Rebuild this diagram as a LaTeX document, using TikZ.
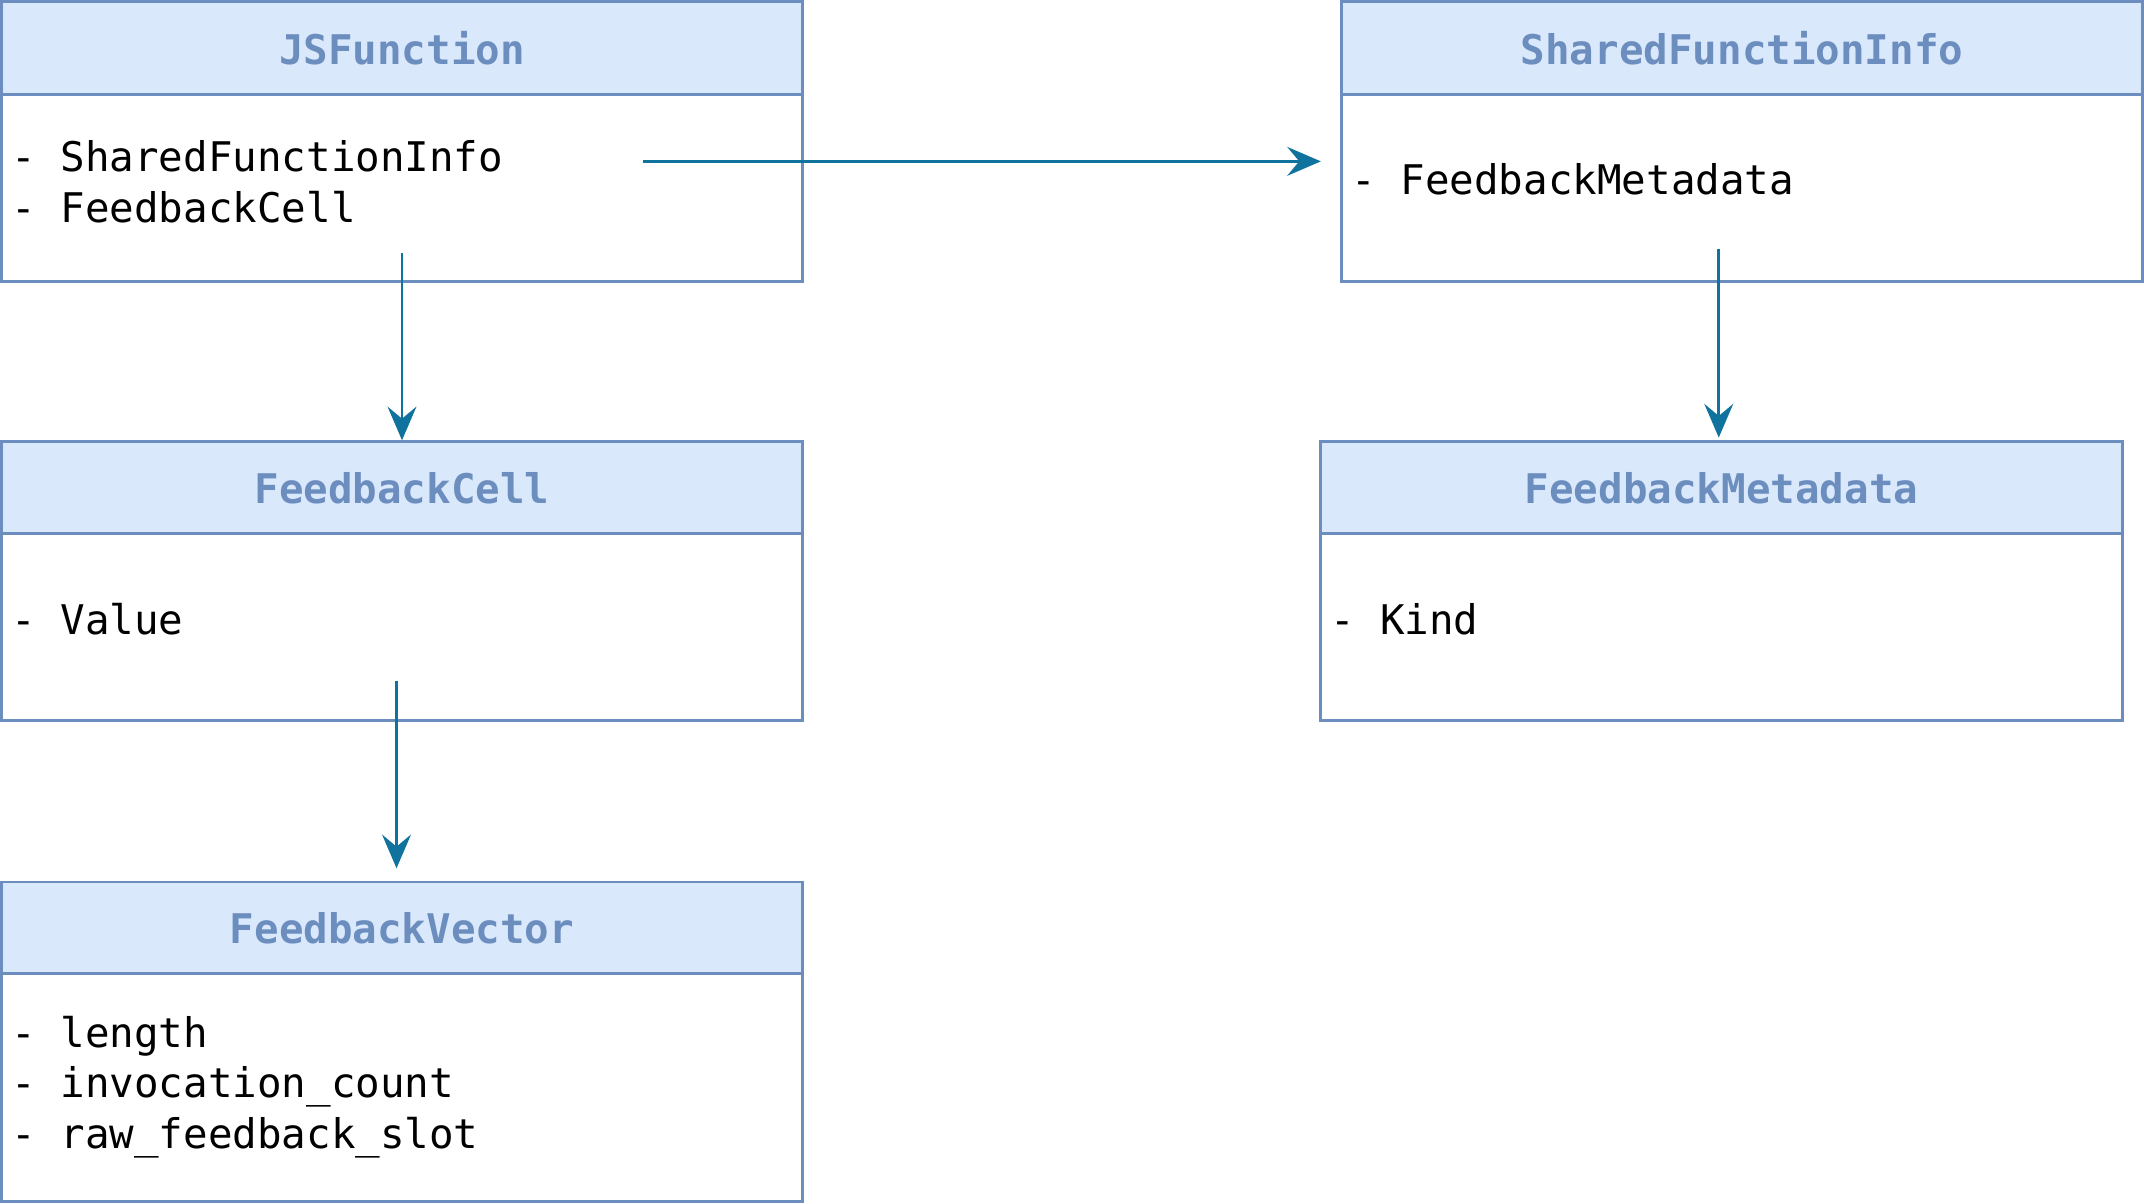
\documentclass[tikz,border=0pt]{standalone}
\usepackage{fontspec}
\setmonofont{DejaVu Sans Mono}
\usetikzlibrary{arrows.meta}
\definecolor{hdrfill}{HTML}{DAE8FC}
\definecolor{hdrline}{HTML}{6C8EBF}
\definecolor{arr}{HTML}{10739E}
\begin{document}
\begin{tikzpicture}[x=0.02cm,y=-0.02cm,
  box/.style={draw=hdrline,line width=1.2pt},
  hdr/.style={draw=hdrline,fill=hdrfill,line width=1.2pt},
  title/.style={font=\ttfamily\bfseries\fontsize{17}{20}\selectfont,text=hdrline},
  item/.style={font=\ttfamily\fontsize{17}{21}\selectfont,anchor=west,align=left,inner sep=0pt},
  link/.style={draw=arr,line width=1.2pt,-{Stealth[length=14pt,width=12pt,inset=5pt]}}]
\useasboundingbox (0,0) rectangle (1568,880);
% JSFunction
\draw[box] (1,1) rectangle (587,206);
\draw[hdr] (1,1) rectangle (587,69);
\node[title] (t1) at (294,35) {JSFunction};
\node[item] (i1) at (8,133) {- SharedFunctionInfo\\- FeedbackCell};
% SharedFunctionInfo
\draw[box] (981,1) rectangle (1567,206);
\draw[hdr] (981,1) rectangle (1567,69);
\node[title] (t2) at (1274,35) {SharedFunctionInfo};
\node[item] (i2) at (988,131) {- FeedbackMetadata};
% FeedbackCell
\draw[box] (1,323) rectangle (587,527);
\draw[hdr] (1,323) rectangle (587,390);
\node[title] (t3) at (294,357) {FeedbackCell};
\node[item] (i3) at (8,453) {- Value};
% FeedbackMetadata
\draw[box] (966,323) rectangle (1552,527);
\draw[hdr] (966,323) rectangle (1552,390);
\node[title] (t4) at (1259,357) {FeedbackMetadata};
\node[item] (i4) at (973,453) {- Kind};
% FeedbackVector
\draw[box] (1,645) rectangle (587,879);
\draw[hdr] (1,645) rectangle (587,712);
\node[title] (t5) at (294,679) {FeedbackVector};
\node[item] (i5) at (8,795) {- length\\- invocation\_count\\- raw\_feedback\_slot};
% connectors
\coordinate (a1) at (470,118); \coordinate (b1) at (966,118);
\coordinate (a2) at (294,185); \coordinate (b2) at (294,322);
\coordinate (a3) at (290,498); \coordinate (b3) at (290,635);
\coordinate (a4) at (1257,182); \coordinate (b4) at (1257,320);
\draw[link] (a1) -- (b1);
\draw[link] (a2) -- (b2);
\draw[link] (a3) -- (b3);
\draw[link] (a4) -- (b4);
\end{tikzpicture}
\end{document}
